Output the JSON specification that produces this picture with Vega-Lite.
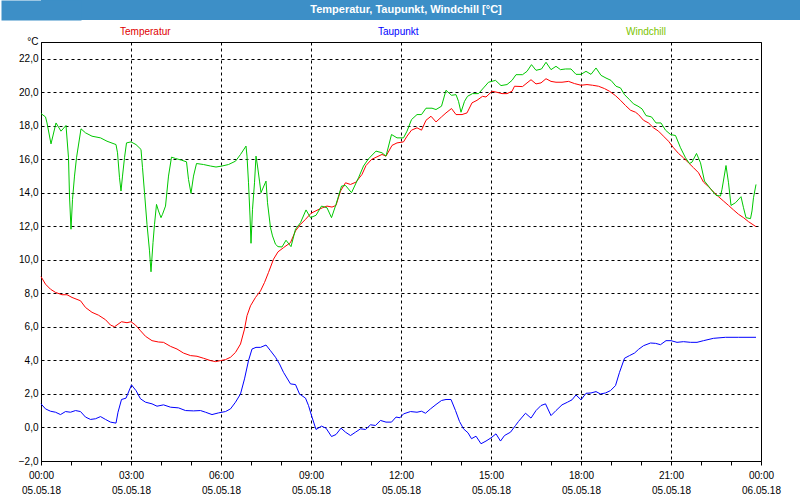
{
  "$schema": "https://vega.github.io/schema/vega-lite/v6.json",
  "padding": 0,
  "spacing": 5,
  "columns": 1,
  "align": "none",
  "background": "white",
  "config": {"font": "Liberation Sans", "locale": {"number": {"decimal": ",", "thousands": ".", "grouping": [3], "currency": ["", " €"]}}},
  "resolve": {"legend": {"color": "independent"}},
  "concat": [
    {
      "width": 760,
      "height": 20,
      "view": {"fill": "#3d8fc7", "stroke": null},
      "data": {"values": [{"title": "Temperatur, Taupunkt, Windchill [°C]"}]},
      "mark": {"type": "text", "color": "white", "fontWeight": "bold", "fontSize": 11, "dx": -15},
      "encoding": {
        "text": {"field": "title", "type": "nominal"},
        "y": {"datum": 0, "type": "quantitative", "scale": {"domain": [-1, 1]},
          "axis": {"title": null, "labels": false, "ticks": false, "grid": false, "domain": true, "domainColor": "#3d8fc7", "domainWidth": 80}}
      }
    },
    {
      "width": 720,
      "height": 419,
      "view": {"fill": "white", "stroke": "black", "strokeWidth": 1},
      "data": {"values": [
    {"s":"Temperatur","t":"2018-05-05T00:00","v":9.0},
    {"s":"Temperatur","t":"2018-05-05T00:09","v":8.55},
    {"s":"Temperatur","t":"2018-05-05T00:19","v":8.25},
    {"s":"Temperatur","t":"2018-05-05T00:29","v":8.06},
    {"s":"Temperatur","t":"2018-05-05T00:42","v":7.92},
    {"s":"Temperatur","t":"2018-05-05T00:52","v":7.92},
    {"s":"Temperatur","t":"2018-05-05T01:02","v":7.76},
    {"s":"Temperatur","t":"2018-05-05T01:19","v":7.56},
    {"s":"Temperatur","t":"2018-05-05T01:29","v":7.16},
    {"s":"Temperatur","t":"2018-05-05T01:42","v":6.87},
    {"s":"Temperatur","t":"2018-05-05T01:55","v":6.7},
    {"s":"Temperatur","t":"2018-05-05T02:09","v":6.43},
    {"s":"Temperatur","t":"2018-05-05T02:19","v":6.11},
    {"s":"Temperatur","t":"2018-05-05T02:27","v":6.01},
    {"s":"Temperatur","t":"2018-05-05T02:41","v":6.31},
    {"s":"Temperatur","t":"2018-05-05T02:52","v":6.25},
    {"s":"Temperatur","t":"2018-05-05T03:00","v":6.31},
    {"s":"Temperatur","t":"2018-05-05T03:09","v":6.11},
    {"s":"Temperatur","t":"2018-05-05T03:19","v":5.77},
    {"s":"Temperatur","t":"2018-05-05T03:29","v":5.44},
    {"s":"Temperatur","t":"2018-05-05T03:42","v":5.18},
    {"s":"Temperatur","t":"2018-05-05T03:55","v":5.1},
    {"s":"Temperatur","t":"2018-05-05T04:05","v":5.08},
    {"s":"Temperatur","t":"2018-05-05T04:19","v":4.84},
    {"s":"Temperatur","t":"2018-05-05T04:32","v":4.68},
    {"s":"Temperatur","t":"2018-05-05T04:45","v":4.44},
    {"s":"Temperatur","t":"2018-05-05T04:59","v":4.29},
    {"s":"Temperatur","t":"2018-05-05T05:12","v":4.25},
    {"s":"Temperatur","t":"2018-05-05T05:25","v":4.13},
    {"s":"Temperatur","t":"2018-05-05T05:39","v":3.99},
    {"s":"Temperatur","t":"2018-05-05T05:49","v":3.93},
    {"s":"Temperatur","t":"2018-05-05T05:59","v":3.99},
    {"s":"Temperatur","t":"2018-05-05T06:09","v":4.05},
    {"s":"Temperatur","t":"2018-05-05T06:19","v":4.19},
    {"s":"Temperatur","t":"2018-05-05T06:29","v":4.48},
    {"s":"Temperatur","t":"2018-05-05T06:39","v":4.98},
    {"s":"Temperatur","t":"2018-05-05T06:47","v":5.87},
    {"s":"Temperatur","t":"2018-05-05T06:52","v":6.67},
    {"s":"Temperatur","t":"2018-05-05T06:59","v":7.26},
    {"s":"Temperatur","t":"2018-05-05T07:09","v":7.76},
    {"s":"Temperatur","t":"2018-05-05T07:19","v":8.15},
    {"s":"Temperatur","t":"2018-05-05T07:27","v":8.65},
    {"s":"Temperatur","t":"2018-05-05T07:35","v":9.25},
    {"s":"Temperatur","t":"2018-05-05T07:45","v":10.04},
    {"s":"Temperatur","t":"2018-05-05T07:54","v":10.48},
    {"s":"Temperatur","t":"2018-05-05T08:05","v":10.73},
    {"s":"Temperatur","t":"2018-05-05T08:19","v":11.03},
    {"s":"Temperatur","t":"2018-05-05T08:29","v":11.73},
    {"s":"Temperatur","t":"2018-05-05T08:39","v":12.12},
    {"s":"Temperatur","t":"2018-05-05T08:49","v":12.42},
    {"s":"Temperatur","t":"2018-05-05T09:00","v":12.78},
    {"s":"Temperatur","t":"2018-05-05T09:12","v":12.96},
    {"s":"Temperatur","t":"2018-05-05T09:23","v":13.11},
    {"s":"Temperatur","t":"2018-05-05T09:32","v":13.21},
    {"s":"Temperatur","t":"2018-05-05T09:42","v":13.15},
    {"s":"Temperatur","t":"2018-05-05T09:50","v":13.25},
    {"s":"Temperatur","t":"2018-05-05T09:59","v":14.11},
    {"s":"Temperatur","t":"2018-05-05T10:09","v":14.6},
    {"s":"Temperatur","t":"2018-05-05T10:19","v":14.5},
    {"s":"Temperatur","t":"2018-05-05T10:30","v":14.64},
    {"s":"Temperatur","t":"2018-05-05T10:42","v":15.1},
    {"s":"Temperatur","t":"2018-05-05T10:50","v":15.63},
    {"s":"Temperatur","t":"2018-05-05T11:01","v":15.99},
    {"s":"Temperatur","t":"2018-05-05T11:12","v":16.15},
    {"s":"Temperatur","t":"2018-05-05T11:22","v":16.29},
    {"s":"Temperatur","t":"2018-05-05T11:30","v":16.19},
    {"s":"Temperatur","t":"2018-05-05T11:42","v":16.83},
    {"s":"Temperatur","t":"2018-05-05T11:52","v":16.98},
    {"s":"Temperatur","t":"2018-05-05T12:05","v":17.04},
    {"s":"Temperatur","t":"2018-05-05T12:12","v":17.38},
    {"s":"Temperatur","t":"2018-05-05T12:21","v":17.74},
    {"s":"Temperatur","t":"2018-05-05T12:32","v":17.88},
    {"s":"Temperatur","t":"2018-05-05T12:41","v":17.74},
    {"s":"Temperatur","t":"2018-05-05T12:50","v":18.33},
    {"s":"Temperatur","t":"2018-05-05T13:00","v":18.57},
    {"s":"Temperatur","t":"2018-05-05T13:10","v":18.23},
    {"s":"Temperatur","t":"2018-05-05T13:21","v":18.53},
    {"s":"Temperatur","t":"2018-05-05T13:30","v":18.77},
    {"s":"Temperatur","t":"2018-05-05T13:41","v":19.03},
    {"s":"Temperatur","t":"2018-05-05T13:50","v":18.67},
    {"s":"Temperatur","t":"2018-05-05T14:02","v":18.67},
    {"s":"Temperatur","t":"2018-05-05T14:12","v":18.77},
    {"s":"Temperatur","t":"2018-05-05T14:22","v":19.37},
    {"s":"Temperatur","t":"2018-05-05T14:32","v":19.52},
    {"s":"Temperatur","t":"2018-05-05T14:43","v":19.76},
    {"s":"Temperatur","t":"2018-05-05T14:50","v":19.72},
    {"s":"Temperatur","t":"2018-05-05T15:02","v":20.06},
    {"s":"Temperatur","t":"2018-05-05T15:12","v":20.0},
    {"s":"Temperatur","t":"2018-05-05T15:22","v":19.92},
    {"s":"Temperatur","t":"2018-05-05T15:32","v":19.92},
    {"s":"Temperatur","t":"2018-05-05T15:42","v":20.06},
    {"s":"Temperatur","t":"2018-05-05T15:47","v":20.36},
    {"s":"Temperatur","t":"2018-05-05T16:03","v":20.34},
    {"s":"Temperatur","t":"2018-05-05T16:20","v":20.75},
    {"s":"Temperatur","t":"2018-05-05T16:30","v":20.5},
    {"s":"Temperatur","t":"2018-05-05T16:40","v":20.56},
    {"s":"Temperatur","t":"2018-05-05T16:50","v":20.81},
    {"s":"Temperatur","t":"2018-05-05T17:00","v":20.65},
    {"s":"Temperatur","t":"2018-05-05T17:10","v":20.6},
    {"s":"Temperatur","t":"2018-05-05T17:22","v":20.6},
    {"s":"Temperatur","t":"2018-05-05T17:35","v":20.65},
    {"s":"Temperatur","t":"2018-05-05T17:47","v":20.52},
    {"s":"Temperatur","t":"2018-05-05T18:00","v":20.42},
    {"s":"Temperatur","t":"2018-05-05T18:12","v":20.46},
    {"s":"Temperatur","t":"2018-05-05T18:23","v":20.42},
    {"s":"Temperatur","t":"2018-05-05T18:35","v":20.36},
    {"s":"Temperatur","t":"2018-05-05T18:47","v":20.22},
    {"s":"Temperatur","t":"2018-05-05T18:57","v":20.06},
    {"s":"Temperatur","t":"2018-05-05T19:09","v":19.8},
    {"s":"Temperatur","t":"2018-05-05T19:19","v":19.52},
    {"s":"Temperatur","t":"2018-05-05T19:29","v":19.21},
    {"s":"Temperatur","t":"2018-05-05T19:39","v":18.93},
    {"s":"Temperatur","t":"2018-05-05T19:49","v":18.81},
    {"s":"Temperatur","t":"2018-05-05T19:55","v":18.67},
    {"s":"Temperatur","t":"2018-05-05T20:05","v":18.33},
    {"s":"Temperatur","t":"2018-05-05T20:15","v":18.17},
    {"s":"Temperatur","t":"2018-05-05T20:25","v":17.88},
    {"s":"Temperatur","t":"2018-05-05T20:35","v":17.68},
    {"s":"Temperatur","t":"2018-05-05T20:45","v":17.38},
    {"s":"Temperatur","t":"2018-05-05T20:55","v":17.08},
    {"s":"Temperatur","t":"2018-05-05T21:05","v":16.69},
    {"s":"Temperatur","t":"2018-05-05T21:15","v":16.35},
    {"s":"Temperatur","t":"2018-05-05T21:25","v":16.09},
    {"s":"Temperatur","t":"2018-05-05T21:35","v":15.79},
    {"s":"Temperatur","t":"2018-05-05T21:45","v":15.5},
    {"s":"Temperatur","t":"2018-05-05T21:55","v":15.2},
    {"s":"Temperatur","t":"2018-05-05T22:05","v":14.64},
    {"s":"Temperatur","t":"2018-05-05T22:15","v":14.37},
    {"s":"Temperatur","t":"2018-05-05T22:25","v":14.05},
    {"s":"Temperatur","t":"2018-05-05T22:35","v":13.77},
    {"s":"Temperatur","t":"2018-05-05T22:45","v":13.51},
    {"s":"Temperatur","t":"2018-05-05T22:55","v":13.25},
    {"s":"Temperatur","t":"2018-05-05T23:05","v":12.98},
    {"s":"Temperatur","t":"2018-05-05T23:15","v":12.72},
    {"s":"Temperatur","t":"2018-05-05T23:25","v":12.52},
    {"s":"Temperatur","t":"2018-05-05T23:35","v":12.28},
    {"s":"Temperatur","t":"2018-05-05T23:50","v":11.98},
    {"s":"Taupunkt","t":"2018-05-05T00:00","v":1.41},
    {"s":"Taupunkt","t":"2018-05-05T00:09","v":1.11},
    {"s":"Taupunkt","t":"2018-05-05T00:19","v":0.97},
    {"s":"Taupunkt","t":"2018-05-05T00:29","v":0.91},
    {"s":"Taupunkt","t":"2018-05-05T00:39","v":0.77},
    {"s":"Taupunkt","t":"2018-05-05T00:49","v":0.95},
    {"s":"Taupunkt","t":"2018-05-05T00:59","v":0.91},
    {"s":"Taupunkt","t":"2018-05-05T01:09","v":1.01},
    {"s":"Taupunkt","t":"2018-05-05T01:19","v":0.95},
    {"s":"Taupunkt","t":"2018-05-05T01:29","v":0.62},
    {"s":"Taupunkt","t":"2018-05-05T01:39","v":0.48},
    {"s":"Taupunkt","t":"2018-05-05T01:49","v":0.52},
    {"s":"Taupunkt","t":"2018-05-05T01:59","v":0.65},
    {"s":"Taupunkt","t":"2018-05-05T02:09","v":0.48},
    {"s":"Taupunkt","t":"2018-05-05T02:19","v":0.32},
    {"s":"Taupunkt","t":"2018-05-05T02:30","v":0.26},
    {"s":"Taupunkt","t":"2018-05-05T02:34","v":0.91},
    {"s":"Taupunkt","t":"2018-05-05T02:41","v":1.67},
    {"s":"Taupunkt","t":"2018-05-05T02:50","v":1.75},
    {"s":"Taupunkt","t":"2018-05-05T03:01","v":2.54},
    {"s":"Taupunkt","t":"2018-05-05T03:10","v":2.2},
    {"s":"Taupunkt","t":"2018-05-05T03:19","v":1.71},
    {"s":"Taupunkt","t":"2018-05-05T03:29","v":1.51},
    {"s":"Taupunkt","t":"2018-05-05T03:42","v":1.41},
    {"s":"Taupunkt","t":"2018-05-05T03:52","v":1.27},
    {"s":"Taupunkt","t":"2018-05-05T04:05","v":1.35},
    {"s":"Taupunkt","t":"2018-05-05T04:19","v":1.21},
    {"s":"Taupunkt","t":"2018-05-05T04:35","v":1.17},
    {"s":"Taupunkt","t":"2018-05-05T04:49","v":1.01},
    {"s":"Taupunkt","t":"2018-05-05T05:05","v":0.99},
    {"s":"Taupunkt","t":"2018-05-05T05:19","v":1.01},
    {"s":"Taupunkt","t":"2018-05-05T05:29","v":0.91},
    {"s":"Taupunkt","t":"2018-05-05T05:42","v":0.77},
    {"s":"Taupunkt","t":"2018-05-05T05:55","v":0.87},
    {"s":"Taupunkt","t":"2018-05-05T06:09","v":0.95},
    {"s":"Taupunkt","t":"2018-05-05T06:19","v":1.11},
    {"s":"Taupunkt","t":"2018-05-05T06:29","v":1.51},
    {"s":"Taupunkt","t":"2018-05-05T06:39","v":2.0},
    {"s":"Taupunkt","t":"2018-05-05T06:47","v":2.9},
    {"s":"Taupunkt","t":"2018-05-05T06:55","v":3.99},
    {"s":"Taupunkt","t":"2018-05-05T07:02","v":4.68},
    {"s":"Taupunkt","t":"2018-05-05T07:10","v":4.78},
    {"s":"Taupunkt","t":"2018-05-05T07:19","v":4.78},
    {"s":"Taupunkt","t":"2018-05-05T07:30","v":4.92},
    {"s":"Taupunkt","t":"2018-05-05T07:39","v":4.58},
    {"s":"Taupunkt","t":"2018-05-05T07:49","v":4.19},
    {"s":"Taupunkt","t":"2018-05-05T07:57","v":3.79},
    {"s":"Taupunkt","t":"2018-05-05T08:05","v":3.29},
    {"s":"Taupunkt","t":"2018-05-05T08:19","v":2.6},
    {"s":"Taupunkt","t":"2018-05-05T08:29","v":2.56},
    {"s":"Taupunkt","t":"2018-05-05T08:37","v":2.0},
    {"s":"Taupunkt","t":"2018-05-05T08:49","v":1.75},
    {"s":"Taupunkt","t":"2018-05-05T08:55","v":1.31},
    {"s":"Taupunkt","t":"2018-05-05T09:02","v":0.62},
    {"s":"Taupunkt","t":"2018-05-05T09:10","v":-0.12},
    {"s":"Taupunkt","t":"2018-05-05T09:21","v":0.08},
    {"s":"Taupunkt","t":"2018-05-05T09:30","v":-0.04},
    {"s":"Taupunkt","t":"2018-05-05T09:41","v":-0.54},
    {"s":"Taupunkt","t":"2018-05-05T09:50","v":-0.42},
    {"s":"Taupunkt","t":"2018-05-05T10:00","v":-0.04},
    {"s":"Taupunkt","t":"2018-05-05T10:09","v":-0.28},
    {"s":"Taupunkt","t":"2018-05-05T10:19","v":-0.48},
    {"s":"Taupunkt","t":"2018-05-05T10:29","v":-0.28},
    {"s":"Taupunkt","t":"2018-05-05T10:39","v":-0.08},
    {"s":"Taupunkt","t":"2018-05-05T10:49","v":-0.12},
    {"s":"Taupunkt","t":"2018-05-05T10:59","v":0.16},
    {"s":"Taupunkt","t":"2018-05-05T11:09","v":0.12},
    {"s":"Taupunkt","t":"2018-05-05T11:19","v":0.42},
    {"s":"Taupunkt","t":"2018-05-05T11:30","v":0.32},
    {"s":"Taupunkt","t":"2018-05-05T11:41","v":0.32},
    {"s":"Taupunkt","t":"2018-05-05T11:50","v":0.62},
    {"s":"Taupunkt","t":"2018-05-05T11:58","v":0.58},
    {"s":"Taupunkt","t":"2018-05-05T12:05","v":0.81},
    {"s":"Taupunkt","t":"2018-05-05T12:19","v":0.95},
    {"s":"Taupunkt","t":"2018-05-05T12:32","v":0.91},
    {"s":"Taupunkt","t":"2018-05-05T12:41","v":0.97},
    {"s":"Taupunkt","t":"2018-05-05T12:49","v":0.85},
    {"s":"Taupunkt","t":"2018-05-05T12:59","v":1.11},
    {"s":"Taupunkt","t":"2018-05-05T13:10","v":1.37},
    {"s":"Taupunkt","t":"2018-05-05T13:21","v":1.61},
    {"s":"Taupunkt","t":"2018-05-05T13:30","v":1.67},
    {"s":"Taupunkt","t":"2018-05-05T13:40","v":1.67},
    {"s":"Taupunkt","t":"2018-05-05T13:49","v":1.01},
    {"s":"Taupunkt","t":"2018-05-05T13:57","v":0.36},
    {"s":"Taupunkt","t":"2018-05-05T14:05","v":-0.08},
    {"s":"Taupunkt","t":"2018-05-05T14:14","v":-0.32},
    {"s":"Taupunkt","t":"2018-05-05T14:21","v":-0.67},
    {"s":"Taupunkt","t":"2018-05-05T14:30","v":-0.52},
    {"s":"Taupunkt","t":"2018-05-05T14:40","v":-0.97},
    {"s":"Taupunkt","t":"2018-05-05T14:50","v":-0.81},
    {"s":"Taupunkt","t":"2018-05-05T15:00","v":-0.62},
    {"s":"Taupunkt","t":"2018-05-05T15:10","v":-0.38},
    {"s":"Taupunkt","t":"2018-05-05T15:19","v":-0.81},
    {"s":"Taupunkt","t":"2018-05-05T15:27","v":-0.48},
    {"s":"Taupunkt","t":"2018-05-05T15:39","v":-0.28},
    {"s":"Taupunkt","t":"2018-05-05T15:49","v":0.12},
    {"s":"Taupunkt","t":"2018-05-05T15:55","v":0.36},
    {"s":"Taupunkt","t":"2018-05-05T16:09","v":0.85},
    {"s":"Taupunkt","t":"2018-05-05T16:20","v":0.56},
    {"s":"Taupunkt","t":"2018-05-05T16:30","v":1.01},
    {"s":"Taupunkt","t":"2018-05-05T16:40","v":1.31},
    {"s":"Taupunkt","t":"2018-05-05T16:49","v":1.41},
    {"s":"Taupunkt","t":"2018-05-05T17:00","v":0.71},
    {"s":"Taupunkt","t":"2018-05-05T17:10","v":1.01},
    {"s":"Taupunkt","t":"2018-05-05T17:22","v":1.35},
    {"s":"Taupunkt","t":"2018-05-05T17:33","v":1.51},
    {"s":"Taupunkt","t":"2018-05-05T17:42","v":1.65},
    {"s":"Taupunkt","t":"2018-05-05T17:50","v":1.94},
    {"s":"Taupunkt","t":"2018-05-05T18:00","v":1.65},
    {"s":"Taupunkt","t":"2018-05-05T18:10","v":2.04},
    {"s":"Taupunkt","t":"2018-05-05T18:20","v":2.06},
    {"s":"Taupunkt","t":"2018-05-05T18:30","v":2.14},
    {"s":"Taupunkt","t":"2018-05-05T18:39","v":2.0},
    {"s":"Taupunkt","t":"2018-05-05T18:49","v":2.06},
    {"s":"Taupunkt","t":"2018-05-05T18:59","v":2.2},
    {"s":"Taupunkt","t":"2018-05-05T19:09","v":2.5},
    {"s":"Taupunkt","t":"2018-05-05T19:17","v":3.29},
    {"s":"Taupunkt","t":"2018-05-05T19:27","v":4.13},
    {"s":"Taupunkt","t":"2018-05-05T19:37","v":4.29},
    {"s":"Taupunkt","t":"2018-05-05T19:47","v":4.44},
    {"s":"Taupunkt","t":"2018-05-05T19:55","v":4.66},
    {"s":"Taupunkt","t":"2018-05-05T20:05","v":4.88},
    {"s":"Taupunkt","t":"2018-05-05T20:19","v":5.04},
    {"s":"Taupunkt","t":"2018-05-05T20:29","v":5.02},
    {"s":"Taupunkt","t":"2018-05-05T20:39","v":4.94},
    {"s":"Taupunkt","t":"2018-05-05T20:50","v":5.18},
    {"s":"Taupunkt","t":"2018-05-05T21:00","v":5.18},
    {"s":"Taupunkt","t":"2018-05-05T21:12","v":5.08},
    {"s":"Taupunkt","t":"2018-05-05T21:25","v":5.12},
    {"s":"Taupunkt","t":"2018-05-05T21:39","v":5.08},
    {"s":"Taupunkt","t":"2018-05-05T21:52","v":5.08},
    {"s":"Taupunkt","t":"2018-05-05T22:05","v":5.18},
    {"s":"Taupunkt","t":"2018-05-05T22:25","v":5.32},
    {"s":"Taupunkt","t":"2018-05-05T22:49","v":5.38},
    {"s":"Taupunkt","t":"2018-05-05T23:15","v":5.38},
    {"s":"Taupunkt","t":"2018-05-05T23:50","v":5.38},
    {"s":"Windchill","t":"2018-05-05T00:00","v":18.73},
    {"s":"Windchill","t":"2018-05-05T00:09","v":18.53},
    {"s":"Windchill","t":"2018-05-05T00:12","v":18.17},
    {"s":"Windchill","t":"2018-05-05T00:20","v":16.92},
    {"s":"Windchill","t":"2018-05-05T00:30","v":18.17},
    {"s":"Windchill","t":"2018-05-05T00:40","v":17.68},
    {"s":"Windchill","t":"2018-05-05T00:50","v":18.02},
    {"s":"Windchill","t":"2018-05-05T00:55","v":16.09},
    {"s":"Windchill","t":"2018-05-05T00:57","v":13.81},
    {"s":"Windchill","t":"2018-05-05T01:00","v":11.83},
    {"s":"Windchill","t":"2018-05-05T01:03","v":13.61},
    {"s":"Windchill","t":"2018-05-05T01:07","v":15.0},
    {"s":"Windchill","t":"2018-05-05T01:11","v":16.09},
    {"s":"Windchill","t":"2018-05-05T01:20","v":17.82},
    {"s":"Windchill","t":"2018-05-05T01:29","v":17.58},
    {"s":"Windchill","t":"2018-05-05T01:42","v":17.38},
    {"s":"Windchill","t":"2018-05-05T01:59","v":17.28},
    {"s":"Windchill","t":"2018-05-05T02:12","v":17.08},
    {"s":"Windchill","t":"2018-05-05T02:30","v":16.88},
    {"s":"Windchill","t":"2018-05-05T02:33","v":16.39},
    {"s":"Windchill","t":"2018-05-05T02:37","v":14.9},
    {"s":"Windchill","t":"2018-05-05T02:40","v":14.11},
    {"s":"Windchill","t":"2018-05-05T02:43","v":15.0},
    {"s":"Windchill","t":"2018-05-05T02:47","v":16.09},
    {"s":"Windchill","t":"2018-05-05T02:51","v":16.98},
    {"s":"Windchill","t":"2018-05-05T03:00","v":17.04},
    {"s":"Windchill","t":"2018-05-05T03:10","v":16.88},
    {"s":"Windchill","t":"2018-05-05T03:20","v":16.59},
    {"s":"Windchill","t":"2018-05-05T03:23","v":15.5},
    {"s":"Windchill","t":"2018-05-05T03:27","v":14.01},
    {"s":"Windchill","t":"2018-05-05T03:32","v":12.12},
    {"s":"Windchill","t":"2018-05-05T03:37","v":10.54},
    {"s":"Windchill","t":"2018-05-05T03:40","v":9.29},
    {"s":"Windchill","t":"2018-05-05T03:44","v":11.03},
    {"s":"Windchill","t":"2018-05-05T03:47","v":12.12},
    {"s":"Windchill","t":"2018-05-05T03:51","v":13.31},
    {"s":"Windchill","t":"2018-05-05T03:55","v":12.92},
    {"s":"Windchill","t":"2018-05-05T04:00","v":12.52},
    {"s":"Windchill","t":"2018-05-05T04:03","v":12.72},
    {"s":"Windchill","t":"2018-05-05T04:09","v":13.21},
    {"s":"Windchill","t":"2018-05-05T04:15","v":15.0},
    {"s":"Windchill","t":"2018-05-05T04:21","v":16.13},
    {"s":"Windchill","t":"2018-05-05T04:29","v":16.05},
    {"s":"Windchill","t":"2018-05-05T04:41","v":15.95},
    {"s":"Windchill","t":"2018-05-05T04:51","v":15.85},
    {"s":"Windchill","t":"2018-05-05T04:55","v":14.8},
    {"s":"Windchill","t":"2018-05-05T05:00","v":13.97},
    {"s":"Windchill","t":"2018-05-05T05:05","v":15.0},
    {"s":"Windchill","t":"2018-05-05T05:11","v":15.75},
    {"s":"Windchill","t":"2018-05-05T05:25","v":15.69},
    {"s":"Windchill","t":"2018-05-05T05:39","v":15.6},
    {"s":"Windchill","t":"2018-05-05T05:50","v":15.54},
    {"s":"Windchill","t":"2018-05-05T06:02","v":15.6},
    {"s":"Windchill","t":"2018-05-05T06:15","v":15.69},
    {"s":"Windchill","t":"2018-05-05T06:29","v":15.89},
    {"s":"Windchill","t":"2018-05-05T06:39","v":16.29},
    {"s":"Windchill","t":"2018-05-05T06:50","v":16.79},
    {"s":"Windchill","t":"2018-05-05T06:52","v":16.19},
    {"s":"Windchill","t":"2018-05-05T06:55","v":14.6},
    {"s":"Windchill","t":"2018-05-05T06:58","v":12.62},
    {"s":"Windchill","t":"2018-05-05T07:00","v":10.99},
    {"s":"Windchill","t":"2018-05-05T07:03","v":13.02},
    {"s":"Windchill","t":"2018-05-05T07:07","v":14.6},
    {"s":"Windchill","t":"2018-05-05T07:10","v":16.19},
    {"s":"Windchill","t":"2018-05-05T07:13","v":15.6},
    {"s":"Windchill","t":"2018-05-05T07:17","v":14.7},
    {"s":"Windchill","t":"2018-05-05T07:20","v":14.01},
    {"s":"Windchill","t":"2018-05-05T07:30","v":14.7},
    {"s":"Windchill","t":"2018-05-05T07:33","v":13.41},
    {"s":"Windchill","t":"2018-05-05T07:39","v":11.92},
    {"s":"Windchill","t":"2018-05-05T07:43","v":11.43},
    {"s":"Windchill","t":"2018-05-05T07:49","v":10.93},
    {"s":"Windchill","t":"2018-05-05T07:54","v":10.79},
    {"s":"Windchill","t":"2018-05-05T08:02","v":10.77},
    {"s":"Windchill","t":"2018-05-05T08:10","v":11.17},
    {"s":"Windchill","t":"2018-05-05T08:20","v":10.79},
    {"s":"Windchill","t":"2018-05-05T08:29","v":11.83},
    {"s":"Windchill","t":"2018-05-05T08:39","v":12.22},
    {"s":"Windchill","t":"2018-05-05T08:50","v":12.98},
    {"s":"Windchill","t":"2018-05-05T08:59","v":12.52},
    {"s":"Windchill","t":"2018-05-05T09:10","v":12.66},
    {"s":"Windchill","t":"2018-05-05T09:21","v":13.21},
    {"s":"Windchill","t":"2018-05-05T09:32","v":13.11},
    {"s":"Windchill","t":"2018-05-05T09:41","v":12.52},
    {"s":"Windchill","t":"2018-05-05T09:50","v":13.31},
    {"s":"Windchill","t":"2018-05-05T10:01","v":14.4},
    {"s":"Windchill","t":"2018-05-05T10:09","v":14.44},
    {"s":"Windchill","t":"2018-05-05T10:21","v":14.01},
    {"s":"Windchill","t":"2018-05-05T10:35","v":14.9},
    {"s":"Windchill","t":"2018-05-05T10:45","v":15.6},
    {"s":"Windchill","t":"2018-05-05T10:55","v":16.03},
    {"s":"Windchill","t":"2018-05-05T11:10","v":16.49},
    {"s":"Windchill","t":"2018-05-05T11:22","v":16.39},
    {"s":"Windchill","t":"2018-05-05T11:30","v":16.19},
    {"s":"Windchill","t":"2018-05-05T11:41","v":17.48},
    {"s":"Windchill","t":"2018-05-05T11:52","v":17.28},
    {"s":"Windchill","t":"2018-05-05T12:05","v":17.28},
    {"s":"Windchill","t":"2018-05-05T12:12","v":17.68},
    {"s":"Windchill","t":"2018-05-05T12:21","v":18.37},
    {"s":"Windchill","t":"2018-05-05T12:32","v":18.67},
    {"s":"Windchill","t":"2018-05-05T12:41","v":18.67},
    {"s":"Windchill","t":"2018-05-05T12:50","v":19.05},
    {"s":"Windchill","t":"2018-05-05T13:02","v":19.05},
    {"s":"Windchill","t":"2018-05-05T13:10","v":18.97},
    {"s":"Windchill","t":"2018-05-05T13:21","v":19.17},
    {"s":"Windchill","t":"2018-05-05T13:30","v":20.12},
    {"s":"Windchill","t":"2018-05-05T13:41","v":19.82},
    {"s":"Windchill","t":"2018-05-05T13:50","v":19.86},
    {"s":"Windchill","t":"2018-05-05T13:55","v":19.46},
    {"s":"Windchill","t":"2018-05-05T14:00","v":18.81},
    {"s":"Windchill","t":"2018-05-05T14:07","v":19.46},
    {"s":"Windchill","t":"2018-05-05T14:13","v":19.76},
    {"s":"Windchill","t":"2018-05-05T14:23","v":19.92},
    {"s":"Windchill","t":"2018-05-05T14:35","v":19.92},
    {"s":"Windchill","t":"2018-05-05T14:45","v":20.26},
    {"s":"Windchill","t":"2018-05-05T14:55","v":20.6},
    {"s":"Windchill","t":"2018-05-05T15:09","v":20.71},
    {"s":"Windchill","t":"2018-05-05T15:20","v":20.4},
    {"s":"Windchill","t":"2018-05-05T15:32","v":20.46},
    {"s":"Windchill","t":"2018-05-05T15:42","v":20.71},
    {"s":"Windchill","t":"2018-05-05T15:50","v":21.05},
    {"s":"Windchill","t":"2018-05-05T16:03","v":21.05},
    {"s":"Windchill","t":"2018-05-05T16:12","v":21.25},
    {"s":"Windchill","t":"2018-05-05T16:21","v":21.65},
    {"s":"Windchill","t":"2018-05-05T16:30","v":21.31},
    {"s":"Windchill","t":"2018-05-05T16:41","v":21.39},
    {"s":"Windchill","t":"2018-05-05T16:50","v":21.79},
    {"s":"Windchill","t":"2018-05-05T17:00","v":21.35},
    {"s":"Windchill","t":"2018-05-05T17:10","v":21.55},
    {"s":"Windchill","t":"2018-05-05T17:19","v":21.35},
    {"s":"Windchill","t":"2018-05-05T17:29","v":21.39},
    {"s":"Windchill","t":"2018-05-05T17:40","v":21.39},
    {"s":"Windchill","t":"2018-05-05T17:50","v":21.07},
    {"s":"Windchill","t":"2018-05-05T18:00","v":21.07},
    {"s":"Windchill","t":"2018-05-05T18:10","v":21.25},
    {"s":"Windchill","t":"2018-05-05T18:20","v":21.07},
    {"s":"Windchill","t":"2018-05-05T18:30","v":21.45},
    {"s":"Windchill","t":"2018-05-05T18:40","v":21.01},
    {"s":"Windchill","t":"2018-05-05T18:50","v":20.85},
    {"s":"Windchill","t":"2018-05-05T19:00","v":20.71},
    {"s":"Windchill","t":"2018-05-05T19:10","v":20.36},
    {"s":"Windchill","t":"2018-05-05T19:19","v":20.26},
    {"s":"Windchill","t":"2018-05-05T19:27","v":19.86},
    {"s":"Windchill","t":"2018-05-05T19:37","v":19.56},
    {"s":"Windchill","t":"2018-05-05T19:45","v":19.31},
    {"s":"Windchill","t":"2018-05-05T19:54","v":19.17},
    {"s":"Windchill","t":"2018-05-05T20:02","v":19.01},
    {"s":"Windchill","t":"2018-05-05T20:10","v":18.61},
    {"s":"Windchill","t":"2018-05-05T20:21","v":18.53},
    {"s":"Windchill","t":"2018-05-05T20:30","v":18.17},
    {"s":"Windchill","t":"2018-05-05T20:40","v":18.17},
    {"s":"Windchill","t":"2018-05-05T20:49","v":17.74},
    {"s":"Windchill","t":"2018-05-05T20:59","v":17.48},
    {"s":"Windchill","t":"2018-05-05T21:09","v":17.42},
    {"s":"Windchill","t":"2018-05-05T21:19","v":16.69},
    {"s":"Windchill","t":"2018-05-05T21:29","v":16.09},
    {"s":"Windchill","t":"2018-05-05T21:37","v":15.75},
    {"s":"Windchill","t":"2018-05-05T21:42","v":15.83},
    {"s":"Windchill","t":"2018-05-05T21:51","v":16.35},
    {"s":"Windchill","t":"2018-05-05T21:59","v":15.79},
    {"s":"Windchill","t":"2018-05-05T22:07","v":14.7},
    {"s":"Windchill","t":"2018-05-05T22:19","v":14.25},
    {"s":"Windchill","t":"2018-05-05T22:30","v":13.85},
    {"s":"Windchill","t":"2018-05-05T22:39","v":13.81},
    {"s":"Windchill","t":"2018-05-05T22:42","v":14.21},
    {"s":"Windchill","t":"2018-05-05T22:50","v":15.63},
    {"s":"Windchill","t":"2018-05-05T22:55","v":14.6},
    {"s":"Windchill","t":"2018-05-05T23:00","v":13.25},
    {"s":"Windchill","t":"2018-05-05T23:09","v":13.41},
    {"s":"Windchill","t":"2018-05-05T23:20","v":13.77},
    {"s":"Windchill","t":"2018-05-05T23:25","v":13.11},
    {"s":"Windchill","t":"2018-05-05T23:30","v":12.52},
    {"s":"Windchill","t":"2018-05-05T23:39","v":12.46},
    {"s":"Windchill","t":"2018-05-05T23:42","v":12.92},
    {"s":"Windchill","t":"2018-05-05T23:45","v":13.71},
    {"s":"Windchill","t":"2018-05-05T23:50","v":14.5}
      ]},
      "mark": {"type": "line", "strokeWidth": 1},
      "encoding": {
        "x": {"field": "t", "type": "temporal",
          "scale": {"domain": [{"year": 2018, "month": 5, "date": 5, "hours": 0}, {"year": 2018, "month": 5, "date": 6, "hours": 0}]},
          "axis": {"title": null, "domainColor": "black", "gridColor": "black", "gridDash": [3, 3],
            "gridOpacity": {"condition": {"test": "hours(datum.value) % 3 == 0", "value": 1}, "value": 0},
            "tickCount": 24, "tickColor": "black", "tickSize": 4, "labelColor": "black", "labelFontSize": 10, "labelAngle": 0,
            "labelFlush": false,
            "labelExpr": "hours(datum.value) % 3 == 0 ? [timeFormat(datum.value, '%H:%M'), timeFormat(datum.value, '%d.%m.%y')] : ''",
            "labelLineHeight": 15, "labelBaseline": "top", "labelPadding": 5}
        },
        "y": {"field": "v", "type": "quantitative",
          "scale": {"domain": [-2, 23], "nice": false, "zero": false},
          "axis": {"title": "°C", "titleAngle": 0, "titleY": 4, "titleX": -3, "titleAlign": "right", "titleColor": "black", "titleFontWeight": "normal", "titleFontSize": 10,
            "values": [-2, 0, 2, 4, 6, 8, 10, 12, 14, 16, 18, 20, 22], "format": ".1f",
            "ticks": false, "domainColor": "black", "minExtent": 40, "maxExtent": 40, "labelPadding": 3,
            "gridColor": "black", "gridOpacity": 1, "gridDash": [3, 3], "labelColor": "black", "labelFontSize": 10}
        },
        "color": {"field": "s", "type": "nominal",
          "scale": {"domain": ["Temperatur", "Taupunkt", "Windchill"], "range": ["#ff0000", "#0000ff", "#00c800"]},
          "legend": {"title": null, "orient": "none", "legendX": 67, "legendY": -16, "direction": "horizontal",
            "symbolOpacity": 0, "labelOffset": 0, "labelFontSize": 10, "columnPadding": 195,
            "labelColor": {"expr": "datum.label == 'Temperatur' ? '#e00000' : datum.label == 'Taupunkt' ? '#0000ff' : '#7cc400'"}}
        }
      }
    }
  ]
}
